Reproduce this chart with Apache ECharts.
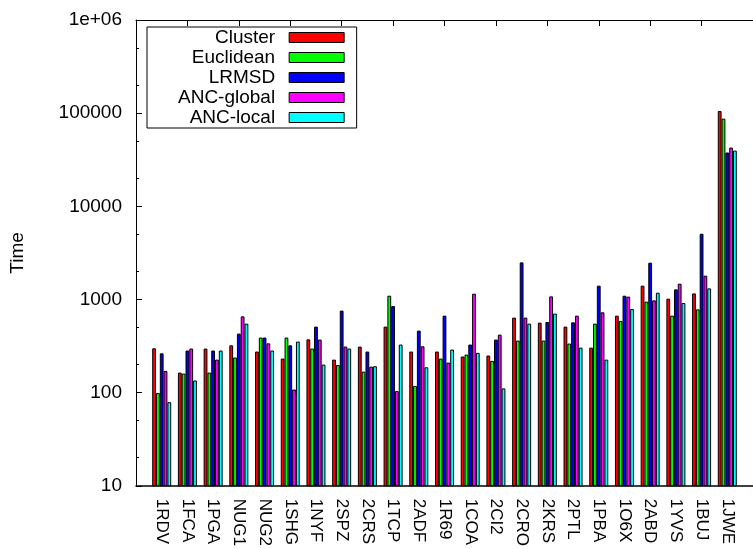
<!DOCTYPE html>
<html>
<head>
<meta charset="utf-8">
<script src="https://cdn.jsdelivr.net/npm/echarts@6/dist/echarts.min.js"></script>
<style>
html,body{margin:0;padding:0;background:#fff;}
#chart{width:753px;height:549px;}
</style>
</head>
<body>
<div id="chart"></div>
<script>
const categories = ['1RDV','1FCA','1PGA','NUG1','NUG2','1SHG','1NYF','2SPZ','2CRS','1TCP','2ADF','1R69','1COA','2CI2','2CRO','2KRS','2PTL','1PBA','1O6X','2ABD','1YVS','1BUJ','1JWE'];
const cluster   = [299,164,297,322,276,232,373,226,312,511,276,276,244,250,638,564,511,304,670,1406,1019,1161,105400];
const euclidean = [99,160,164,238,390,390,297,198,168,1097,118,232,256,219,362,362,336,550,588,947,670,783,87300];
const lrmsd     = [264,283,283,430,390,322,511,759,276,849,463,670,328,371,2500,573,568,1406,1097,2479,1283,5070,37800];
const ancGlobal = [171,297,226,659,338,108,371,312,190,104,314,210,1153,419,638,1079,670,728,1072,978,1476,1799,42700];
const ancLocal  = [79,135,283,550,283,353,200,297,192,328,187,290,267,111,550,705,304,226,789,1181,915,1315,39600];
const seriesNames = ['Cluster','Euclidean','LRMSD','ANC-global','ANC-local'];
const seriesColors = ['#ff0000','#00ff00','#0000ff','#ff00ff','#00ffff'];
const minorTicks = [20,50,200,500,2000,5000,20000,50000,200000,500000];

const FONT = 'Liberation Sans, Arial, Helvetica, sans-serif';
const axisCats = [''].concat(categories, ['']);
const pad = arr => [null].concat(arr, [null]);
const allValues = [cluster, euclidean, lrmsd, ancGlobal, ancLocal];

const chart = echarts.init(document.getElementById('chart'), null, {renderer: 'canvas'});
const option = {
  animation: false,
  backgroundColor: '#ffffff',
  textStyle: {fontFamily: FONT, color: '#000'},
  grid: {left: 136, top: 20, width: 628, height: 467, containLabel: false},
  legend: {
    orient: 'vertical',
    left: 147, top: 27,
    align: 'right',
    itemWidth: 55, itemHeight: 10, itemGap: 1,
    padding: [1, 12, 1, 31],
    backgroundColor: '#fff',
    borderColor: '#000', borderWidth: 1, borderRadius: 0,
    icon: 'rect',
    itemStyle: {borderColor: '#000', borderWidth: 1},
    textStyle: {fontFamily: FONT, fontSize: 19, color: '#000', lineHeight: 19, padding: [0, 9, 0, 0]},
    data: seriesNames
  },
  xAxis: [{
    type: 'category', data: axisCats, boundaryGap: false, position: 'bottom',
    axisLine: {lineStyle: {color: '#000', width: 1.5}},
    axisTick: {show: true, inside: true, length: 6, lineStyle: {color: '#000'}},
    axisLabel: {interval: 0, rotate: -90, margin: 13, fontSize: 17, fontFamily: FONT, color: '#000'},
    splitLine: {show: false}
  }, {
    type: 'category', data: axisCats, boundaryGap: false, position: 'top',
    axisLine: {lineStyle: {color: '#000', width: 1}},
    axisTick: {show: true, inside: true, length: 6, lineStyle: {color: '#000'}},
    axisLabel: {show: false},
    splitLine: {show: false}
  }],
  yAxis: [{
    type: 'log', logBase: 10, min: 10, max: 1000000,
    name: 'Time', nameLocation: 'middle', nameGap: 109, nameRotate: 90,
    nameTextStyle: {fontSize: 19, fontFamily: FONT, color: '#000'},
    axisLine: {show: true, lineStyle: {color: '#000', width: 1}},
    axisTick: {show: true, inside: true, length: 6, lineStyle: {color: '#000'}},
    axisLabel: {
      margin: 14, fontSize: 19, fontFamily: FONT, color: '#000',
      formatter: v => (v >= 1000000 ? '1e+06' : String(Math.round(v)))
    },
    splitLine: {show: false}
  }, {
    type: 'log', logBase: 10, min: 10, max: 1000000, position: 'left',
    axisLine: {show: false},
    axisTick: {show: true, inside: true, length: 3, lineStyle: {color: '#000', width: 1}, customValues: minorTicks},
    axisLabel: {show: false},
    splitLine: {show: false}
  }],
  series: seriesNames.map((name, i) => ({
    name: name,
    type: 'bar',
    xAxisIndex: 0, yAxisIndex: 0,
    data: pad(allValues[i]),
    barWidth: 3.8,
    barGap: '0%',
    clip: true,
    itemStyle: {color: seriesColors[i], borderColor: '#000', borderWidth: 1}
  }))
};
chart.setOption(option);
</script>
</body>
</html>
